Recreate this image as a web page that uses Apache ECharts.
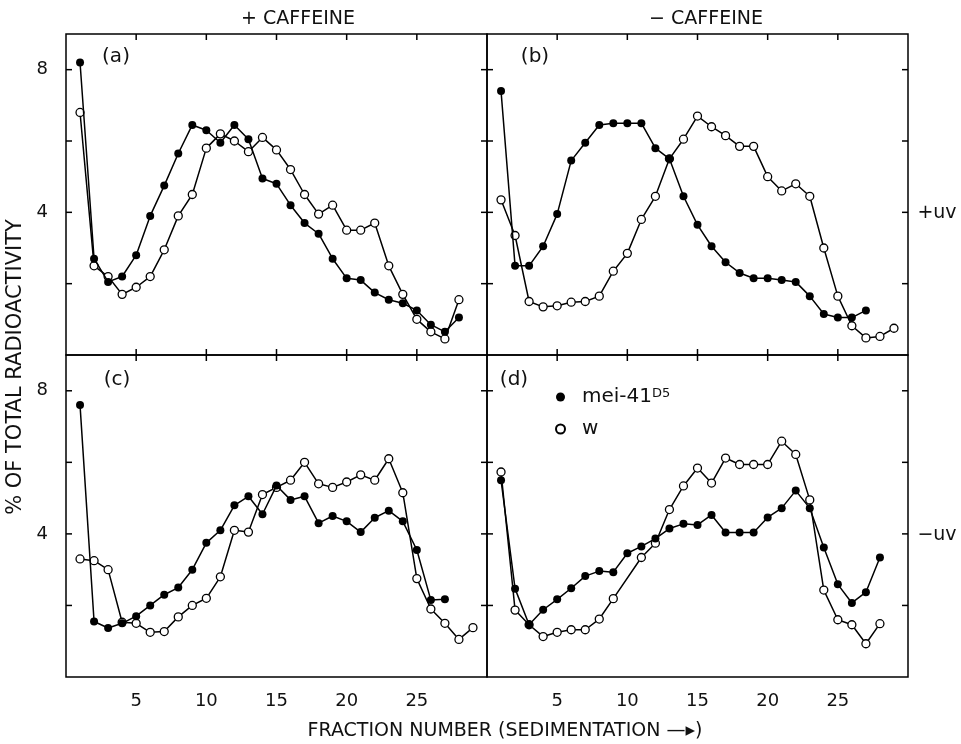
<!DOCTYPE html>
<html>
<head>
<meta charset="utf-8">
<style>
  html, body { margin: 0; padding: 0; background: #fff; }
  #chart { width: 961px; height: 744px; }
</style>
<script src="https://cdn.jsdelivr.net/npm/echarts@6/dist/echarts.min.js"></script>
</head>
<body>
<div id="chart"></div>
<script>
// Fraction numbers (sedimentation order)
const fractions = [1, 2, 3, 4, 5, 6, 7, 8, 9, 10, 11, 12, 13, 14, 15, 16, 17, 18, 19, 20, 21, 22, 23, 24, 25, 26, 27, 28, 29];

// % of total radioactivity, panel (a): +caffeine, +uv
const meiA = [8.2, 2.7, 2.05, 2.2, 2.8, 3.9, 4.75, 5.65, 6.45, 6.3, 5.95, 6.45, 6.05, 4.95, 4.8, 4.2, 3.7, 3.4, 2.7, 2.15, 2.1, 1.75, 1.55, 1.45, 1.25, 0.85, 0.65, 1.05];
const wA = [6.8, 2.5, 2.2, 1.7, 1.9, 2.2, 2.95, 3.9, 4.5, 5.8, 6.2, 6.0, 5.7, 6.1, 5.75, 5.2, 4.5, 3.95, 4.2, 3.5, 3.5, 3.7, 2.5, 1.7, 1.0, 0.65, 0.45, 1.55];

// panel (b): -caffeine, +uv
const meiB = [7.4, 2.5, 2.5, 3.05, 3.95, 5.45, 5.95, 6.45, 6.5, 6.5, 6.5, 5.8, 5.5, 4.45, 3.65, 3.05, 2.6, 2.3, 2.15, 2.15, 2.1, 2.05, 1.65, 1.15, 1.05, 1.05, 1.25];
const wB = [4.35, 3.35, 1.5, 1.35, 1.38, 1.48, 1.5, 1.65, 2.35, 2.85, 3.8, 4.45, 5.5, 6.05, 6.7, 6.4, 6.15, 5.85, 5.85, 5.0, 4.6, 4.8, 4.45, 3.0, 1.65, 0.82, 0.48, 0.52, 0.75];

// panel (c): +caffeine, -uv
const meiC = [7.6, 1.55, 1.37, 1.5, 1.7, 2.0, 2.3, 2.5, 3.0, 3.75, 4.1, 4.8, 5.05, 4.55, 5.35, 4.95, 5.05, 4.3, 4.5, 4.35, 4.05, 4.45, 4.65, 4.35, 3.55, 2.15, 2.17];
const wC = [3.3, 3.25, 3.0, 1.53, 1.5, 1.25, 1.27, 1.68, 2.0, 2.2, 2.8, 4.1, 4.05, 5.1, 5.3, 5.5, 6.0, 5.4, 5.3, 5.45, 5.65, 5.5, 6.1, 5.15, 2.75, 1.9, 1.5, 1.05, 1.38];

// panel (d): -caffeine, -uv (fraction 10 of w not measured)
const meiD = [5.5, 2.47, 1.46, 1.88, 2.17, 2.48, 2.82, 2.96, 2.93, 3.46, 3.65, 3.87, 4.15, 4.28, 4.25, 4.53, 4.04, 4.04, 4.04, 4.46, 4.72, 5.21, 4.72, 3.62, 2.59, 2.07, 2.37, 3.34];
const wD = [5.73, 1.87, 1.46, 1.13, 1.25, 1.32, 1.32, 1.62, 2.19, null, 3.34, 3.74, 4.68, 5.34, 5.84, 5.42, 6.12, 5.94, 5.94, 5.94, 6.59, 6.22, 4.95, 2.43, 1.6, 1.46, 0.93, 1.49];

// Tick positions and labels
const xTicks = [5, 10, 15, 20, 25];
const yTicks = [2, 4, 6, 8];
const xTickLabels = [5, 10, 15, 20, 25];
const yTickLabels = [4, 8];

const panelLabels = ['(a)', '(b)', '(c)', '(d)'];
const columnTitles = ['+ CAFFEINE', '\u2212 CAFFEINE'];
const rowTitles = ['+uv', '\u2212uv'];
const meiName = 'mei-41D5';
const wName = 'w';

const X_MIN = 0, X_MAX = 30, Y_MIN = 0, Y_MAX = 9;
const FONT = '"DejaVu Sans", "Liberation Sans", sans-serif';
const INK = '#111';
const TICK_LEN = 6;

const chart = echarts.init(document.getElementById('chart'), null, { renderer: 'canvas' });

// 2 x 2 panel layout
const grids = [
  { left: 66, top: 34, width: 421, height: 321 },
  { left: 487, top: 34, width: 421, height: 321 },
  { left: 66, top: 355, width: 421, height: 322 },
  { left: 487, top: 355, width: 421, height: 322 }
].map(g => Object.assign({ show: true, borderColor: '#000', borderWidth: 1.5, backgroundColor: 'transparent' }, g));

const xAxes = [];
const yAxes = [];
for (let i = 0; i < 4; i++) {
  const bottomRow = i >= 2;
  const leftCol = i % 2 === 0;
  xAxes.push({
    gridIndex: i, type: 'value', min: X_MIN, max: X_MAX, interval: 5, position: 'bottom',
    axisLine: { show: false },
    axisTick: { show: false },
    axisLabel: {
      show: bottomRow, margin: 15, fontSize: 18, fontFamily: FONT, color: INK,
      formatter: v => (xTickLabels.indexOf(v) >= 0 ? String(v) : '')
    },
    splitLine: { show: false }
  });
  yAxes.push({
    gridIndex: i, type: 'value', min: Y_MIN, max: Y_MAX, interval: 2, position: 'left',
    axisLine: { show: false },
    axisTick: { show: false },
    axisLabel: {
      show: leftCol, margin: 18, fontSize: 18, fontFamily: FONT, color: INK,
      formatter: v => (yTickLabels.indexOf(v) >= 0 ? String(v) : '')
    },
    splitLine: { show: false }
  });
}

function toPairs(values) {
  return values
    .map((v, i) => [fractions[i], v])
    .filter(p => p[1] !== null);
}

const panelData = [
  { mei: meiA, w: wA },
  { mei: meiB, w: wB },
  { mei: meiC, w: wC },
  { mei: meiD, w: wD }
];

// Inward tick marks on all four sides of a panel (none under the bottom row)
function tickRenderer(panelIndex) {
  const bottomRow = panelIndex >= 2;
  return function (params, api) {
    const stroke = { stroke: '#000', lineWidth: 1.5 };
    const children = [];
    xTicks.forEach(x => {
      const top = api.coord([x, Y_MAX]);
      children.push({ type: 'line', shape: { x1: top[0], y1: top[1], x2: top[0], y2: top[1] + TICK_LEN }, style: stroke });
      if (!bottomRow) {
        const bot = api.coord([x, Y_MIN]);
        children.push({ type: 'line', shape: { x1: bot[0], y1: bot[1], x2: bot[0], y2: bot[1] - TICK_LEN }, style: stroke });
      }
    });
    yTicks.forEach(y => {
      const l = api.coord([X_MIN, y]);
      const r = api.coord([X_MAX, y]);
      children.push({ type: 'line', shape: { x1: l[0], y1: l[1], x2: l[0] + TICK_LEN, y2: l[1] }, style: stroke });
      children.push({ type: 'line', shape: { x1: r[0], y1: r[1], x2: r[0] - TICK_LEN, y2: r[1] }, style: stroke });
    });
    return { type: 'group', children: children };
  };
}

const series = [];
panelData.forEach((p, i) => {
  series.push({
    type: 'custom', xAxisIndex: i, yAxisIndex: i, silent: true, z: 1,
    data: [[X_MIN, Y_MIN]], renderItem: tickRenderer(i), clip: false
  });
  series.push({
    name: wName, type: 'line', xAxisIndex: i, yAxisIndex: i,
    data: toPairs(p.w), symbol: 'circle', symbolSize: 8,
    lineStyle: { color: '#000', width: 1.5 },
    itemStyle: { color: '#fff', borderColor: '#000', borderWidth: 1.3 },
    emphasis: { disabled: true }, z: 3
  });
  series.push({
    name: meiName, type: 'line', xAxisIndex: i, yAxisIndex: i,
    data: toPairs(p.mei), symbol: 'circle', symbolSize: 8,
    lineStyle: { color: '#000', width: 1.5 },
    itemStyle: { color: '#000', borderColor: '#000', borderWidth: 0 },
    emphasis: { disabled: true }, z: 4
  });
});

// Free-standing text: column titles, row titles, panel letters, axis titles
function txt(text, x, y, size, extra) {
  return Object.assign({
    type: 'text', x: x, y: y, silent: true,
    style: {
      text: text, fill: INK, font: size + 'px ' + FONT,
      align: 'center', verticalAlign: 'middle',
      textAlign: 'center', textVerticalAlign: 'middle'
    }
  }, extra || {});
}

const panelLabelPos = [[116, 57], [535, 57], [117, 380], [514, 380]];
const graphics = [
  txt(columnTitles[0], 298, 19, 19),
  txt(columnTitles[1], 706, 19, 19),
  txt(rowTitles[0], 937, 213, 19),
  txt(rowTitles[1], 937, 535, 19),
  txt('% OF TOTAL RADIOACTIVITY', 16, 367, 21, { rotation: Math.PI / 2 }),
  txt('FRACTION NUMBER (SEDIMENTATION \u2014\u25B8)', 505, 731, 19)
];
panelLabels.forEach((t, i) => graphics.push(txt(t, panelLabelPos[i][0], panelLabelPos[i][1], 20)));

chart.setOption({
  animation: false,
  backgroundColor: '#fff',
  grid: grids,
  xAxis: xAxes,
  yAxis: yAxes,
  legend: {
    data: [meiName, wName],
    orient: 'vertical', left: 550, top: 382,
    icon: 'circle', itemWidth: 9, itemHeight: 9, itemGap: 12,
    selectedMode: false,
    formatter: name => (name === meiName ? '{a|mei-41}{s|D5}' : '{a|w}'),
    textStyle: {
      color: INK, fontFamily: FONT, fontSize: 20,
      rich: {
        a: { fontSize: 20, fontFamily: FONT, color: INK, padding: [0, 0, 0, 12] },
        s: { fontSize: 13, fontFamily: FONT, color: INK, verticalAlign: 'top' }
      }
    }
  },
  graphic: graphics,
  series: series
});
</script>
</body>
</html>
